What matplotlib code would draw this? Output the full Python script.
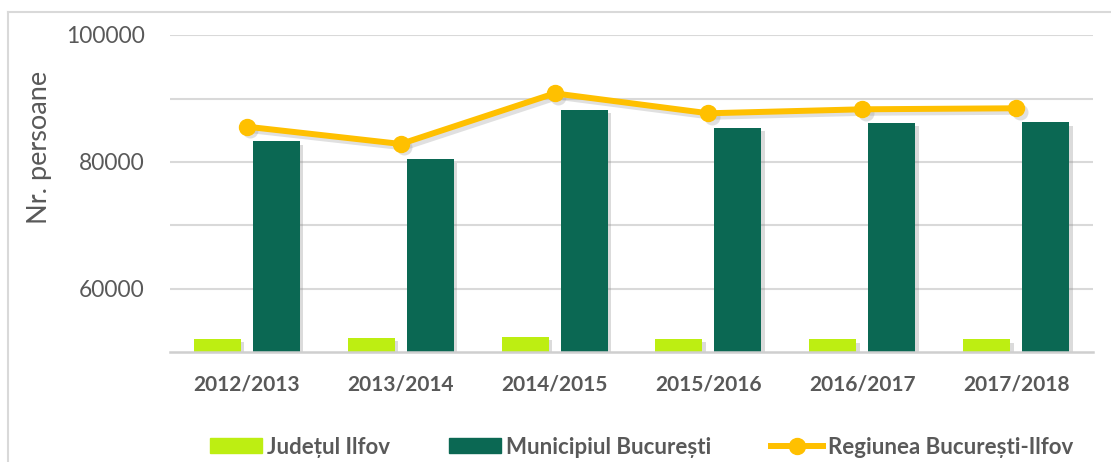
import matplotlib
matplotlib.use("Agg")
import matplotlib.pyplot as plt
import matplotlib.patheffects as pe
from matplotlib.lines import Line2D
from matplotlib.patches import Patch
from matplotlib.transforms import ScaledTranslation
import numpy as np

categories = ["2012/2013", "2013/2014", "2014/2015", "2015/2016", "2016/2017", "2017/2018"]
ilfov = [52170, 52280, 52440, 52170, 52080, 52080]
bucuresti = [83300, 80420, 88190, 85400, 86190, 86250]
regiunea = [85560, 82840, 90810, 87670, 88300, 88460]
series_names = ["Județul Ilfov", "Municipiul București", "Regiunea București-Ilfov"]
ytick_labels = {60000: "60000", 80000: "80000", 100000: "100000"}

c_ilfov = "#BDEE12"
c_buc = "#0B6853"
c_reg = "#FFC000"
c_text = "#595959"
c_grid = "#D9D9D9"
FONT = "Lato"

fig = plt.figure(figsize=(11.11, 4.62), dpi=100)
ax = fig.add_axes([170/1111, 1-352.5/462, 923/1111, 317.5/462])

x = np.arange(len(categories))
bw = 0.306
off = 0.192
base = 50000
shadow = [pe.SimplePatchShadow(offset=(2.5, -2.5), shadow_rgbFace="#888888", alpha=0.3), pe.Normal()]

b1 = ax.bar(x - off, np.array(ilfov) - base, bw, bottom=base, color=c_ilfov, zorder=3)
b2 = ax.bar(x + off, np.array(bucuresti) - base, bw, bottom=base, color=c_buc, zorder=3)
for r in list(b1) + list(b2):
    r.set_path_effects(shadow)

# soft shadow of the line
shift = ax.transData + ScaledTranslation(2.5/72, -2.5/72, fig.dpi_scale_trans)
ax.plot(x, regiunea, color="#999999", alpha=0.3, lw=4.3, marker="o", ms=11.5,
        mec="none", zorder=4, transform=shift)
ax.plot(x, regiunea, color=c_reg, lw=4.3, marker="o", ms=11.5, zorder=5,
        solid_capstyle="round")

ax.set_xlim(-0.5, len(categories) - 0.5)
ax.set_ylim(50000, 100000)

for v in range(60000, 100001, 10000):
    ax.axhline(v, color=c_grid, lw=1.5, zorder=1)
ax.axhline(50000, color="#CFCFCF", lw=1.8, zorder=4, clip_on=False)

ax.set_yticks(list(ytick_labels.keys()))
ax.set_yticklabels(list(ytick_labels.values()), fontsize=16.4, color=c_text, family=FONT)
ax.set_xticks(x)
ax.set_xticklabels(categories, fontsize=15, fontweight="bold", color=c_text, family=FONT)
ax.tick_params(axis="both", length=0)
ax.tick_params(axis="y", pad=18)
ax.tick_params(axis="x", pad=16)
for s in ax.spines.values():
    s.set_visible(False)

ax.set_ylabel("Nr. persoane", fontsize=19.5, color=c_text, family=FONT)
ax.yaxis.set_label_coords(-0.1278, 0.647)

handles = [Patch(color=c_ilfov), Patch(color=c_buc),
           Line2D([], [], color=c_reg, lw=4.3, marker="o", ms=11.5)]
leg_x = [210, 449, 771]
for h, name, lx in zip(handles, series_names, leg_x):
    leg = fig.legend([h], [name], loc="center left", bbox_to_anchor=(lx/1111, 1-447/462),
                     frameon=False, handlelength=2.34, handleheight=0.63,
                     handletextpad=0.23, borderpad=0, borderaxespad=0,
                     prop={"family": FONT, "weight": "bold", "size": 16})
    for t in leg.get_texts():
        t.set_color(c_text)

# chart border
fig.add_artist(Line2D([8/1111, 8/1111], [0, 1-12/462], color=c_grid, lw=1.5))
fig.add_artist(Line2D([8/1111, 1], [1-12/462, 1-12/462], color=c_grid, lw=1.5))

fig.savefig("out.png", dpi=100, facecolor="white")
